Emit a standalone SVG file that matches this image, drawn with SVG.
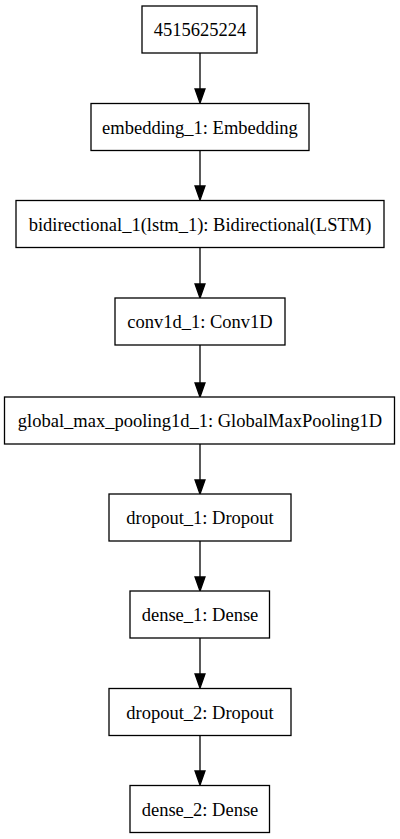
<svg xmlns="http://www.w3.org/2000/svg" width="400" height="839" viewBox="0 0 400 839">
<style>
.n rect{fill:#fff;stroke:#000;stroke-width:1.3}
.n text{font-family:'Liberation Serif','Times New Roman',serif;font-size:18.5px;text-anchor:middle;fill:#000}
.e line{stroke:#000;stroke-width:1.3}
.e polygon{fill:#000;stroke:#000;stroke-width:1.3}
</style>
<rect width="400" height="839" fill="#fff"/>
<g class="e">
<line x1="200" y1="53" x2="200" y2="89"/><polygon points="195,89 205,89 200,103"/>
<line x1="200" y1="151" x2="200" y2="186"/><polygon points="195,186 205,186 200,200"/>
<line x1="200" y1="248" x2="200" y2="284"/><polygon points="195,284 205,284 200,298"/>
<line x1="200" y1="345" x2="200" y2="383"/><polygon points="195,383 205,383 200,397"/>
<line x1="200" y1="444" x2="200" y2="480"/><polygon points="195,480 205,480 200,494"/>
<line x1="200" y1="541" x2="200" y2="577"/><polygon points="195,577 205,577 200,591"/>
<line x1="200" y1="638" x2="200" y2="674"/><polygon points="195,674 205,674 200,688"/>
<line x1="200" y1="736" x2="200" y2="771"/><polygon points="195,771 205,771 200,785"/>
</g>
<g id="n0" class="n"><rect x="142" y="6" width="115" height="47"/><text x="200" y="36">4515625224</text></g>
<g id="n1" class="n"><rect x="91" y="103.5" width="218" height="47"/><text x="200" y="133.5">embedding_1: Embedding</text></g>
<g id="n2" class="n"><rect x="16" y="200.5" width="368" height="47"/><text x="200" y="230.5">bidirectional_1(lstm_1): Bidirectional(LSTM)</text></g>
<g id="n3" class="n"><rect x="115" y="298" width="170" height="47"/><text x="200" y="328">conv1d_1: Conv1D</text></g>
<g id="n4" class="n"><rect x="4.5" y="397" width="390" height="47"/><text x="200" y="427">global_max_pooling1d_1: GlobalMaxPooling1D</text></g>
<g id="n5" class="n"><rect x="109" y="494" width="182" height="47"/><text x="200" y="524">dropout_1: Dropout</text></g>
<g id="n6" class="n"><rect x="130" y="591" width="139.5" height="47"/><text x="200" y="621">dense_1: Dense</text></g>
<g id="n7" class="n"><rect x="109" y="688.5" width="182" height="47"/><text x="200" y="718.5">dropout_2: Dropout</text></g>
<g id="n8" class="n"><rect x="130" y="785.5" width="139.5" height="47"/><text x="200" y="815.5">dense_2: Dense</text></g>
</svg>
